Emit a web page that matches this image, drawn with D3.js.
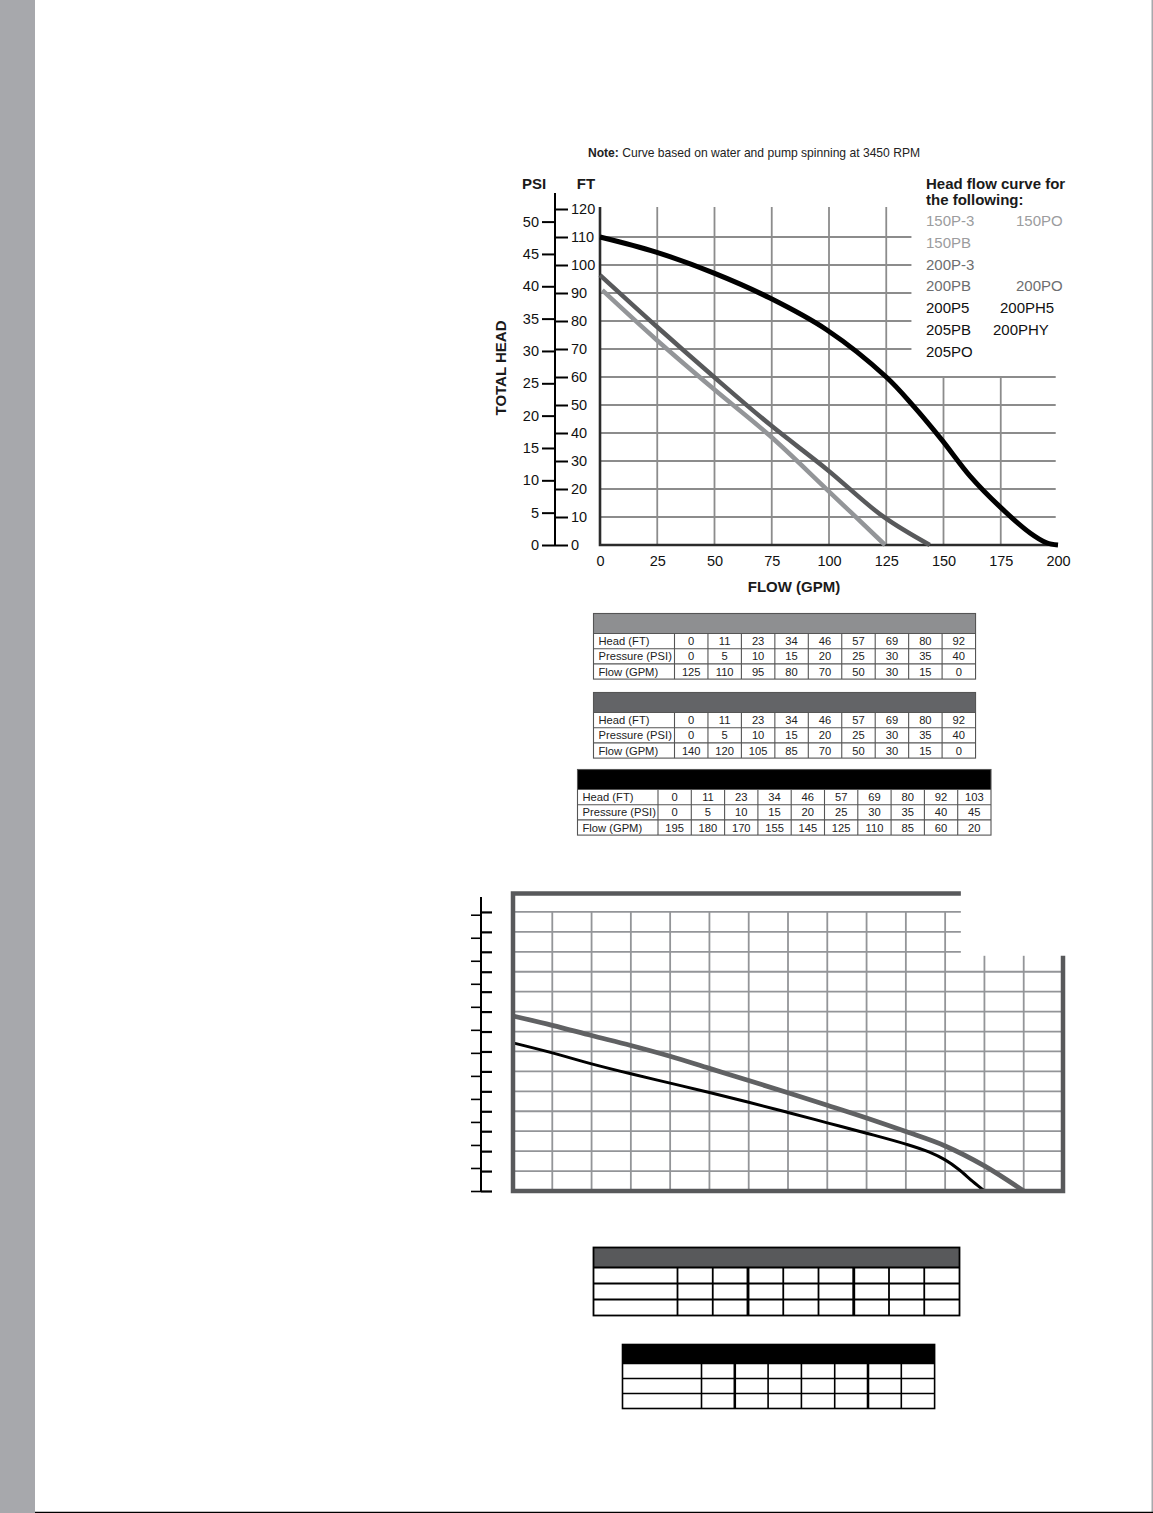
<!DOCTYPE html>
<html>
<head>
<meta charset="utf-8">
<script src="https://cdn.jsdelivr.net/npm/d3@7"></script>
<style>
  body { margin: 0; background: #fff; }
  svg { display: block; font-family: "Liberation Sans", Arial, Helvetica, sans-serif; }
</style>
</head>
<body>
<svg id="page" width="1153" height="1513"></svg>
<script>

// ---- top chart data ----
var flowTicks = [0, 25, 50, 75, 100, 125, 150, 175, 200]
var ftTicks = [0, 10, 20, 30, 40, 50, 60, 70, 80, 90, 100, 110, 120]
var psiTicks = [0, 5, 10, 15, 20, 25, 30, 35, 40, 45, 50]

// [flow gpm, head ft]
var curveLight = [[1, 91], [24.5, 73.4], [49.8, 55.6], [74.2, 39], [99.1, 19.8], [124.5, 0]]
var curveDark = [[0, 96.4], [24.5, 78.2], [49.8, 60], [74.2, 43], [99.1, 27], [123.6, 10.2], [144, 0]]
var curveBlack = [[0, 110], [24.5, 104.6], [49.8, 97.1], [74.2, 88.2], [99.1, 76.8], [125, 60],
                  [137, 49.5], [149, 37.8], [161.6, 24.6], [174.7, 13.6], [187.8, 4.3], [195, 0.8], [200, 0]]

var legendLight = ['150P-3', '150PO', '150PB']
var legendMid = ['200P-3', '200PB', '200PO']
var legendBlack = ['200P5', '200PH5', '205PB', '200PHY', '205PO']

// ---- tables ----
var rowLabels = ['Head (FT)', 'Pressure (PSI)', 'Flow (GPM)']
var headFt1 = [0, 11, 23, 34, 46, 57, 69, 80, 92]
var psi1 = [0, 5, 10, 15, 20, 25, 30, 35, 40]
var flow1 = [125, 110, 95, 80, 70, 50, 30, 15, 0]
var headFt2 = [0, 11, 23, 34, 46, 57, 69, 80, 92]
var psi2 = [0, 5, 10, 15, 20, 25, 30, 35, 40]
var flow2 = [140, 120, 105, 85, 70, 50, 30, 15, 0]
var headFt3 = [0, 11, 23, 34, 46, 57, 69, 80, 92, 103]
var psi3 = [0, 5, 10, 15, 20, 25, 30, 35, 40, 45]
var flow3 = [195, 180, 170, 155, 145, 125, 110, 85, 60, 20]

// ---- bottom (blank template) chart ----
var colTicks = [0, 1, 2, 3, 4, 5, 6, 7, 8, 9, 10, 11, 12, 13, 14]
var ftTicks2 = [0, 10, 20, 30, 40, 50, 60, 70, 80, 90, 100, 110, 120, 130, 140]
var psiTicks2 = [0, 5, 10, 15, 20, 25, 30, 35, 40, 45, 50, 55, 60]
var curveGray2 = [[0, 87.8], [1, 83.1], [2, 78], [3, 73], [4, 67.6], [5, 61.5], [6, 55.4], [7, 49.3],
                  [8, 43], [9, 36.6], [10, 29.8], [11, 22.6], [12, 12.6], [13, 0]]
var curveBlack2 = [[0, 74.3], [1, 69.3], [2, 63.8], [3, 58.8], [4, 54.1], [5, 49.4], [6, 44.5], [7, 39.4],
                   [8, 34.2], [9, 29], [10, 23.5], [10.6, 19.5], [11, 15.6], [11.35, 10.8], [11.7, 4.8], [12, 0]]

var FT_PER_PSI = 2.31

var svg = d3.select('#page')

// page decoration
svg.append('rect').attr('x', 0).attr('y', 0).attr('width', 35).attr('height', 1513).attr('fill', '#a7a8ac')
svg.append('rect').attr('x', 1151.5).attr('y', 0).attr('width', 1.5).attr('height', 1513).attr('fill', '#a7a8ac')
svg.append('line').attr('x1', 35).attr('x2', 1153).attr('y1', 1512.3).attr('y2', 1512.3)
    .attr('stroke', '#000').attr('stroke-width', 1.2)

// ================= TOP CHART =================
var x = d3.scaleLinear().domain([0, 200]).range([600, 1058])
var y = d3.scaleLinear().domain([0, 120]).range([545, 209])

svg.append('text')
    .attr('x', 754).attr('y', 157)
    .attr('text-anchor', 'middle')
    .attr('font-size', 12.1).attr('fill', '#222')
    .call(t => {
        t.append('tspan').attr('font-weight', 'bold').text('Note:')
        t.append('tspan').text(' Curve based on water and pump spinning at 3450 RPM')
    })

var grid = svg.append('g').attr('stroke', '#8c8c8c').attr('stroke-width', 1.8)

// vertical grid lines, the last two stop under the legend
grid.selectAll('line.v')
    .data(flowTicks.filter(d => d > 0 && d < 200))
    .enter().append('line')
    .attr('x1', d => x(d)).attr('x2', d => x(d))
    .attr('y1', d => d <= 125 ? y(120) - 2 : y(60))
    .attr('y2', y(0))

// horizontal grid lines, upper ones stop before the legend
grid.selectAll('line.h')
    .data(ftTicks.filter(d => d > 0 && d < 120))
    .enter().append('line')
    .attr('x1', x(0))
    .attr('x2', d => d <= 60 ? x(199) : x(136))
    .attr('y1', d => y(d)).attr('y2', d => y(d))

// frame (left + bottom)
svg.append('path')
    .attr('d', 'M' + x(0) + ',' + (y(120) - 2) + 'V' + y(0) + 'H' + x(200))
    .attr('fill', 'none').attr('stroke', '#2b2b2b').attr('stroke-width', 2.6)

var line = d3.line().x(d => x(d[0])).y(d => y(d[1])).curve(d3.curveCatmullRom.alpha(0.5))

svg.append('path').datum(curveLight).attr('d', line)
    .attr('fill', 'none').attr('stroke', '#939598').attr('stroke-width', 4.5)
svg.append('path').datum(curveDark).attr('d', line)
    .attr('fill', 'none').attr('stroke', '#58595b').attr('stroke-width', 4.5)
svg.append('path').datum(curveBlack).attr('d', line)
    .attr('fill', 'none').attr('stroke', '#000').attr('stroke-width', 5)

// x axis labels
svg.append('g')
    .attr('transform', 'translate(0,' + y(0) + ')')
    .call(d3.axisBottom(x).tickValues(flowTicks).tickSize(0).tickPadding(11))
    .call(g => g.select('.domain').remove())
    .selectAll('text')
    .attr('font-size', 14.5).attr('fill', '#111').attr('font-family', null)

// FT / PSI dual axis
var axisX = 555
svg.append('line')
    .attr('x1', axisX).attr('x2', axisX).attr('y1', 193).attr('y2', y(0))
    .attr('stroke', '#000').attr('stroke-width', 2)

var ftAxis = svg.append('g')
    .attr('transform', 'translate(' + axisX + ',0)')
    .call(d3.axisRight(y).tickValues(ftTicks).tickSize(13).tickPadding(3))
ftAxis.select('.domain').remove()

var psiScale = d3.scaleLinear().domain([0, 120 / FT_PER_PSI]).range([y(0), y(120)])
var psiAxis = svg.append('g')
    .attr('transform', 'translate(' + axisX + ',0)')
    .call(d3.axisLeft(psiScale).tickValues(psiTicks).tickSize(13).tickPadding(3))
psiAxis.select('.domain').remove()

svg.selectAll('.tick line').attr('stroke', '#000').attr('stroke-width', 2)
svg.selectAll('.tick text').attr('font-family', null)
ftAxis.selectAll('text').attr('font-size', 14.5).attr('fill', '#111')
psiAxis.selectAll('text').attr('font-size', 14.5).attr('fill', '#111')

svg.append('text').attr('x', 534).attr('y', 189).attr('text-anchor', 'middle')
    .attr('font-size', 15).attr('font-weight', 'bold').attr('fill', '#1a1a1a').text('PSI')
svg.append('text').attr('x', 586).attr('y', 189).attr('text-anchor', 'middle')
    .attr('font-size', 15).attr('font-weight', 'bold').attr('fill', '#1a1a1a').text('FT')

svg.append('text')
    .attr('transform', 'translate(506,368) rotate(-90)')
    .attr('text-anchor', 'middle')
    .attr('font-size', 15).attr('font-weight', 'bold').attr('fill', '#1a1a1a')
    .text('TOTAL HEAD')

svg.append('text')
    .attr('x', 794).attr('y', 592).attr('text-anchor', 'middle')
    .attr('font-size', 15).attr('font-weight', 'bold').attr('fill', '#1a1a1a')
    .text('FLOW (GPM)')

// legend
var lg = svg.append('g').attr('font-size', 15)
lg.append('text').attr('x', 926).attr('y', 189).attr('font-weight', 'bold').attr('fill', '#1a1a1a')
    .text('Head flow curve for')
lg.append('text').attr('x', 926).attr('y', 205).attr('font-weight', 'bold').attr('fill', '#1a1a1a')
    .text('the following:')

// [name, column x, row]
var legendPos = {
    '150P-3': [926, 0], '150PO': [1016, 0], '150PB': [926, 1],
    '200P-3': [926, 2], '200PB': [926, 3], '200PO': [1016, 3],
    '200P5': [926, 4], '200PH5': [1000, 4], '205PB': [926, 5],
    '200PHY': [993, 5], '205PO': [926, 6]
}
var legendItems = legendLight.map(n => ({ n: n, c: '#9b9c9e' }))
    .concat(legendMid.map(n => ({ n: n, c: '#6d6e70' })))
    .concat(legendBlack.map(n => ({ n: n, c: '#111' })))
lg.selectAll('text.item')
    .data(legendItems)
    .enter().append('text')
    .attr('class', 'item')
    .attr('x', d => legendPos[d.n][0])
    .attr('y', d => 226 + legendPos[d.n][1] * 21.8)
    .attr('fill', d => d.c)
    .text(d => d.n)

// ================= TABLES =================
function drawTable(opt) {
    var g = svg.append('g')
    var nCols = opt.rows.length ? opt.rows[0].length : opt.cols
    var w = opt.labelW + nCols * opt.colW
    var h = opt.headH + 3 * opt.rowH
    g.append('rect').attr('x', opt.x).attr('y', opt.y).attr('width', w).attr('height', opt.headH)
        .attr('fill', opt.head)
    var body = g.append('g').attr('stroke', opt.stroke).attr('stroke-width', opt.sw).attr('fill', 'none')
    body.append('rect').attr('x', opt.x).attr('y', opt.y).attr('width', w).attr('height', h)
    d3.range(3).forEach(function (r) {
        var yy = opt.y + opt.headH + r * opt.rowH
        body.append('line').attr('x1', opt.x).attr('x2', opt.x + w).attr('y1', yy).attr('y2', yy)
    })
    d3.range(nCols).forEach(function (c) {
        var xx = opt.x + opt.labelW + c * opt.colW
        body.append('line').attr('x1', xx).attr('x2', xx)
            .attr('y1', opt.y + opt.headH).attr('y2', opt.y + h)
            .attr('stroke-width', opt.thick && opt.thick.indexOf(c) >= 0 ? opt.sw * 1.6 : opt.sw)
    })
    if (!opt.rows.length) return
    var tg = g.append('g').attr('font-size', 11.2).attr('fill', '#222')
    rowLabels.forEach(function (lab, r) {
        var yy = opt.y + opt.headH + (r + 0.5) * opt.rowH + 4
        tg.append('text').attr('x', opt.x + 5).attr('y', yy).text(lab)
        opt.rows[r].forEach(function (v, c) {
            tg.append('text').attr('x', opt.x + opt.labelW + (c + 0.5) * opt.colW).attr('y', yy)
                .attr('text-anchor', 'middle').text(v)
        })
    })
}

drawTable({ x: 593.5, y: 613.5, labelW: 81, colW: 33.45, headH: 20, rowH: 15.2,
    head: '#8e8f91', stroke: '#555', sw: 1.1, rows: [headFt1, psi1, flow1] })
drawTable({ x: 593.5, y: 692.5, labelW: 81, colW: 33.45, headH: 20, rowH: 15.2,
    head: '#636467', stroke: '#555', sw: 1.1, rows: [headFt2, psi2, flow2] })
drawTable({ x: 577.5, y: 769.5, labelW: 80.5, colW: 33.3, headH: 20, rowH: 15.2,
    head: '#000', stroke: '#555', sw: 1.1, rows: [headFt3, psi3, flow3] })

drawTable({ x: 593.5, y: 1247.5, labelW: 84, colW: 35.25, headH: 20, rowH: 16,
    head: '#58595b', stroke: '#000', sw: 1.8, rows: [], cols: 8, thick: [2, 5] })
drawTable({ x: 622.5, y: 1344.5, labelW: 79, colW: 33.3, headH: 19, rowH: 15,
    head: '#000', stroke: '#000', sw: 1.6, rows: [], cols: 7, thick: [1, 5] })

// ================= BOTTOM CHART =================
var x2 = d3.scaleLinear().domain([0, 14]).range([513, 1063])
var y2 = d3.scaleLinear().domain([0, 150]).range([1191, 892])

var grid2 = svg.append('g').attr('stroke', '#939598').attr('stroke-width', 1.8)
grid2.selectAll('line.v')
    .data(colTicks.filter(d => d > 0 && d < 14))
    .enter().append('line')
    .attr('x1', d => x2(d)).attr('x2', d => x2(d))
    .attr('y1', d => d <= 11 ? y2(140) : y2(118)).attr('y2', y2(0))
grid2.selectAll('line.h')
    .data(ftTicks2.filter(d => d > 0))
    .enter().append('line')
    .attr('x1', x2(0))
    .attr('x2', d => d >= 120 ? x2(11.4) : x2(14))
    .attr('y1', d => y2(d)).attr('y2', d => y2(d))

var line2 = d3.line().x(d => x2(d[0])).y(d => y2(d[1])).curve(d3.curveCatmullRom.alpha(0.5))
svg.append('path').datum(curveGray2).attr('d', line2)
    .attr('fill', 'none').attr('stroke', '#606163').attr('stroke-width', 4.8)
svg.append('path').datum(curveBlack2).attr('d', line2)
    .attr('fill', 'none').attr('stroke', '#000').attr('stroke-width', 3)

// frame, open at the top right
svg.append('path')
    .attr('d', 'M' + x2(11.4) + ',' + y2(149.2) + 'H' + x2(0) + 'V' + y2(0) + 'H' + x2(14) + 'V' + y2(118))
    .attr('fill', 'none').attr('stroke', '#58595b').attr('stroke-width', 4.5)

// blank dual axis
var ax2 = 481
svg.append('line').attr('x1', ax2).attr('x2', ax2).attr('y1', 897).attr('y2', y2(0))
    .attr('stroke', '#000').attr('stroke-width', 2)
var psiScale2 = d3.scaleLinear().domain([0, 150 / FT_PER_PSI]).range([y2(0), y2(150)])
var bAxL = svg.append('g').attr('transform', 'translate(' + ax2 + ',0)')
    .call(d3.axisLeft(psiScale2).tickValues(psiTicks2).tickSize(10).tickFormat(''))
var bAxR = svg.append('g').attr('transform', 'translate(' + ax2 + ',0)')
    .call(d3.axisRight(y2).tickValues(ftTicks2).tickSize(11).tickFormat(''))
bAxL.select('.domain').remove()
bAxR.select('.domain').remove()
bAxL.selectAll('.tick line').attr('stroke', '#000').attr('stroke-width', 1.6)
bAxR.selectAll('.tick line').attr('stroke', '#000').attr('stroke-width', 2.2)

</script>
</body>
</html>
